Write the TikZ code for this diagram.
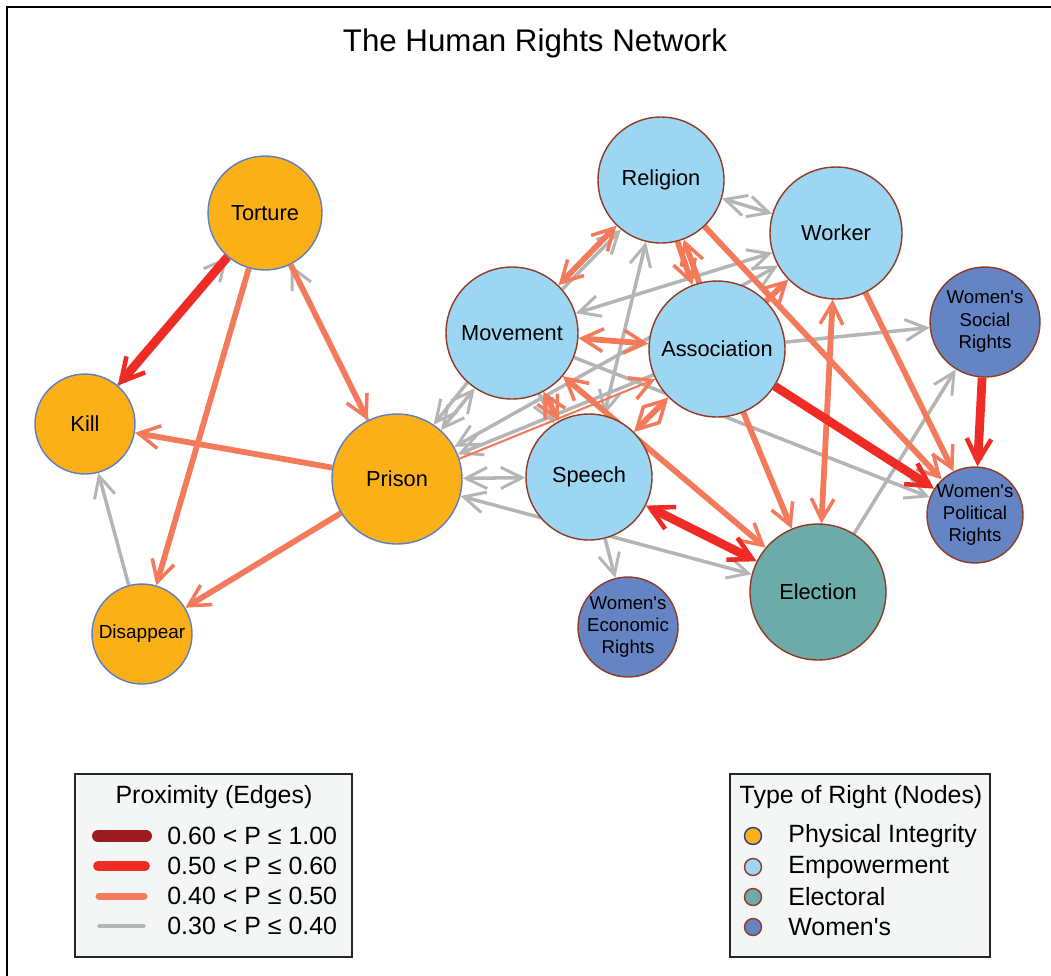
\documentclass[tikz,border=0pt]{standalone}
\usepackage{fontspec}
\setmainfont{Liberation Sans}
\usetikzlibrary{arrows.meta}
\definecolor{physical}{RGB}{251,176,24}
\definecolor{empower}{RGB}{157,214,242}
\definecolor{electoral}{RGB}{108,171,170}
\definecolor{women}{RGB}{101,132,196}
\definecolor{rimred}{RGB}{145,58,36}
\definecolor{rimblue}{RGB}{92,126,196}
\definecolor{keyblue}{RGB}{46,58,140}
\definecolor{edgegrey}{RGB}{181,181,181}
\definecolor{salmon}{RGB}{244,122,92}
\definecolor{edgered}{RGB}{238,43,36}
\definecolor{darkred}{RGB}{155,27,31}
\definecolor{legfill}{RGB}{244,246,246}
\pgfdeclarelayer{edges}
\pgfsetlayers{edges,main}

\begin{document}
\begin{tikzpicture}[x=0.02cm, y=-0.02cm,
    phys/.style={circle, draw=rimblue, line width=0.8pt, fill=physical, inner sep=0pt, font=\fontsize{12.4}{14}\selectfont},
    empw/.style={phys, draw=rimred, fill=empower},
    elec/.style={phys, draw=rimred, fill=electoral},
    wom/.style={phys, draw=rimred, fill=women},
    womtext/.style={align=center, inner sep=0pt, font=\fontsize{10.6}{12.8}\selectfont},
    low/.style={edgegrey, line width=2pt, >={Straight Barb[length=12pt,width=12pt,line width=1.7pt]}},
    mid/.style={salmon, line width=3.3pt, >={Straight Barb[length=12pt,width=13pt,line width=2pt]}},
    high/.style={edgered, line width=5pt, >={Straight Barb[length=13pt,width=14pt,line width=2.6pt]}},
    legbox/.style={draw=black!85, fill=legfill, line width=1.4pt},
    keytext/.style={anchor=west, inner sep=0pt, font=\fontsize{14.2}{16}\selectfont},
    typetext/.style={anchor=west, inner sep=0pt, font=\fontsize{14.2}{16}\selectfont},
    keydot/.style={circle, draw=rimred, line width=0.8pt, minimum size=0.34cm, inner sep=0pt}]
\useasboundingbox (0,0) rectangle (1051,975);
\draw[line width=1.3pt] (7,1100) -- (7,7) -- (1100,7);

\node[font=\fontsize{17.8}{20}\selectfont] (title) at (535,43) {The Human Rights Network};

\node[phys, minimum size=2.28cm] (torture) at (265,213) {Torture};
\node[phys, minimum size=2cm] (kill) at (85,424) {Kill};
\node[phys, minimum size=2cm, font=\fontsize{10.8}{12}\selectfont] (disappear) at (142,634) {Disappear};
\node[phys, minimum size=2.6cm] (prison) at (397,479) {Prison};
\node[empw, minimum size=2.64cm] (movement) at (512,333) {Movement};
\node[empw, minimum size=2.52cm] (religion) at (661,180) {Religion};
\node[empw, minimum size=2.64cm] (worker) at (836,233) {Worker};
\node[empw, minimum size=2.72cm] (association) at (717,349) {Association};
\node[empw, minimum size=2.52cm] (speech) at (589,477) {Speech};
\node[elec, minimum size=2.72cm] (election) at (818,592) {Election};
\node[wom, minimum size=2.2cm] (social) at (985,322) {};
\node[wom, minimum size=1.92cm] (political) at (975,515) {};
\node[wom, minimum size=2cm] (economic) at (628,627) {};
\node[womtext] (socialtext) at (social) {Women\textquotesingle s\\Social\\Rights};
\node[womtext] (politicaltext) at (political) {Women\textquotesingle s\\Political\\Rights};
\node[womtext] (economictext) at (economic) {Women\textquotesingle s\\Economic\\Rights};

\begin{pgfonlayer}{edges}
\draw[low,->] (kill) -- (torture);
\draw[low,->] (prison) -- (torture);
\draw[low,->] (disappear) -- (kill);
\draw[low,->] (movement.228) -- (prison.56);
\draw[low,<->] (movement.236) -- (prison.48);
\draw[low,->] (association) -- (prison);
\draw[low,<->] (worker) -- (prison);
\draw[low,<->] (speech) -- (prison);
\draw[low,<->] (election) -- (prison);
\draw[low,<->] (religion) -- (speech);
\draw[low,->] (movement.41) -- (religion.231);
\draw[low,<->] (movement) -- (worker);
\draw[low,<->] (religion) -- (worker);
\draw[low,->] (movement) -- (political);
\draw[low,->] (association) -- (social);
\draw[low,->] (election) -- (social);
\draw[low,->] (speech) -- (economic);
\draw[low,->] (movement.294) -- (speech.123);

\draw[mid,->] (torture) -- (disappear);
\draw[mid,->] (torture) -- (prison);
\draw[mid,->] (prison) -- (kill);
\draw[mid,->] (prison) -- (disappear);
\draw[mid,->,line width=1.2pt] (prison.18) -- (association.206);
\draw[mid,<->] (movement) -- (religion);
\draw[mid,<->] (movement) -- (association);
\draw[mid,->] (association.105) -- (religion.291);
\draw[mid,->] (religion.285) -- (association.111);
\draw[mid,->] (religion) -- (political);
\draw[mid,->] (association) -- (worker);
\draw[mid,<->] (movement) -- (speech);
\draw[mid,<->] (association) -- (speech);
\draw[mid,<->] (movement) -- (election);
\draw[mid,->] (association) -- (election);
\draw[mid,<->] (worker) -- (election);
\draw[mid,->] (worker) -- (political);

\draw[high,->] (torture) -- (kill);
\draw[high,<->] (speech) -- (election);
\draw[high,->] (association) -- (political);
\draw[high,->] (social) -- (political);
\end{pgfonlayer}

\draw[legbox] (75,774) rectangle (352,957);
\node[font=\fontsize{14.2}{16}\selectfont] (edgekey) at (214,797) {Proximity (Edges)};
\draw[darkred, line width=6.8pt, line cap=round] (98,836) -- (146,836);
\draw[edgered, line width=5.6pt, line cap=round] (98,866) -- (145,866);
\draw[salmon, line width=4pt, line cap=round] (99,896) -- (144,896);
\draw[edgegrey, line width=2pt, line cap=round] (99,926) -- (144,926);
\node[keytext] (key1) at (167,836) {0.60 < P ≤ 1.00};
\node[keytext] (key2) at (167,866) {0.50 < P ≤ 0.60};
\node[keytext] (key3) at (167,896) {0.40 < P ≤ 0.50};
\node[keytext] (key4) at (167,926) {0.30 < P ≤ 0.40};

\draw[legbox] (730,774) rectangle (990,957);
\node[font=\fontsize{14.2}{16}\selectfont] (nodekey) at (861,797) {Type of Right (Nodes)};
\node[keydot, draw=keyblue, fill=physical] (dot1) at (753,836) {};
\node[keydot, fill=empower] (dot2) at (753,867) {};
\node[keydot, fill=electoral] (dot3) at (753,897) {};
\node[keydot, fill=women] (dot4) at (753,927) {};
\node[typetext] (type1) at (788,836) {Physical Integrity};
\node[typetext] (type2) at (788,867) {Empowerment};
\node[typetext] (type3) at (788,897) {Electoral};
\node[typetext] (type4) at (788,927) {Women\textquotesingle s};
\end{tikzpicture}
\end{document}
